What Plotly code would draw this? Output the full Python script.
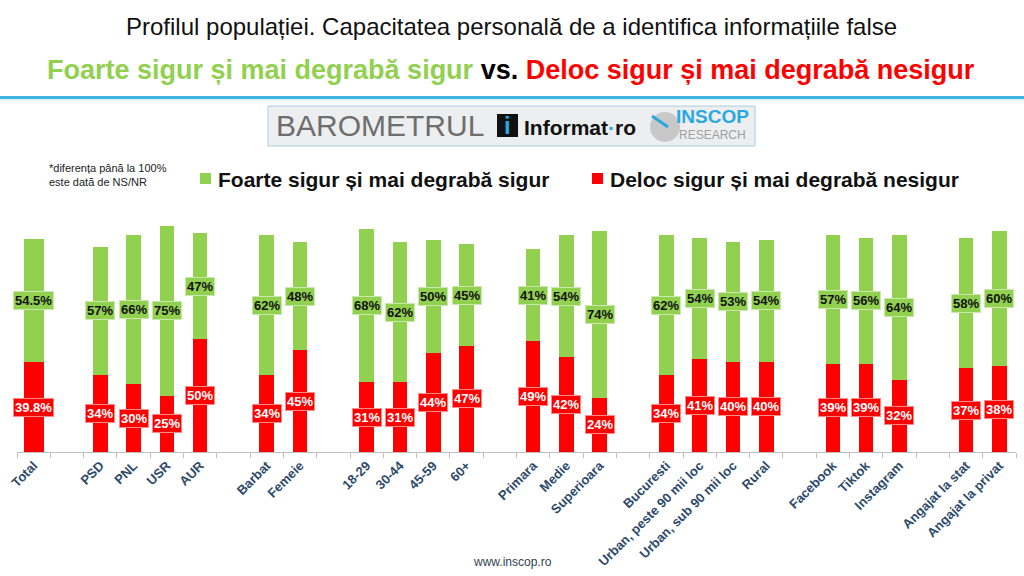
import plotly.graph_objects as go

# ---------------- data ----------------
groups = [
    ["Total"],
    ["PSD", "PNL", "USR", "AUR"],
    ["Barbat", "Femeie"],
    ["18-29", "30-44", "45-59", "60+"],
    ["Primara", "Medie", "Superioara"],
    ["Bucuresti", "Urban, peste 90 mii loc", "Urban, sub 90 mii loc", "Rural"],
    ["Facebook", "Tiktok", "Instagram"],
    ["Angajat la stat", "Angajat la privat"],
]
green_labels = ["54.5%", "57%", "66%", "75%", "47%", "62%", "48%", "68%", "62%", "50%", "45%",
                "41%", "54%", "74%", "62%", "54%", "53%", "54%", "57%", "56%", "64%", "58%", "60%"]
green_vals = [54.5, 57, 66, 75, 47, 62, 48, 68, 62, 50, 45,
              41, 54, 74, 62, 54, 53, 54, 57, 56, 64, 58, 60]
red_labels = ["39.8%", "34%", "30%", "25%", "50%", "34%", "45%", "31%", "31%", "44%", "47%",
              "49%", "42%", "24%", "34%", "41%", "40%", "40%", "39%", "39%", "32%", "37%", "38%"]
red_vals = [39.8, 34, 30, 25, 50, 34, 45, 31, 31, 44, 47,
            49, 42, 24, 34, 41, 40, 40, 39, 39, 32, 37, 38]
series_names = ["Foarte sigur și mai degrabă sigur", "Deloc sigur și mai degrabă nesigur"]

GREEN = "#92D050"
RED = "#FF0000"
W, H = 1024, 576
ML, MR, MT, MB = 17, 8, 215, 124
PW, PH = W - ML - MR, H - MT - MB
FONT = "Liberation Sans, Arial"


def px(x):
    return (x - ML) / PW


def py(y):
    return (H - MB - y) / PH


# build category slots with empty separators between groups
slots, xs, gv, rv, gl, rl, widths = [], [], [], [], [], [], []
k = 0
for gi, g in enumerate(groups):
    if gi > 0:
        slots.append(" " * gi)
    for name in g:
        slots.append(name)
        xs.append(name)
        gv.append(green_vals[k]); rv.append(red_vals[k])
        gl.append(green_labels[k]); rl.append(red_labels[k])
        widths.append(0.6 if name == "Total" else 0.44)
        k += 1

fig = go.Figure()
fig.add_trace(go.Bar(x=xs, y=rv, width=widths, marker=dict(color=RED, line=dict(width=0)),
                     name=series_names[1], hoverinfo="skip", showlegend=False))
fig.add_trace(go.Bar(x=xs, y=gv, width=widths, marker=dict(color=GREEN, line=dict(width=0)),
                     name=series_names[0], hoverinfo="skip", showlegend=False))

annotations = []
for x, g, r, gt, rt in zip(xs, gv, rv, gl, rl):
    annotations.append(dict(x=x, y=r + g / 2, xref="x", yref="y", text=gt, showarrow=False,
                            xanchor="center", yanchor="middle",
                            font=dict(family=FONT, size=13, color="#111111", weight="bold"),
                            bgcolor=GREEN, bordercolor="#c9e8ad", borderwidth=1, borderpad=1))
    annotations.append(dict(x=x, y=r / 2, xref="x", yref="y", text=rt, showarrow=False,
                            xanchor="center", yanchor="middle",
                            font=dict(family=FONT, size=13, color="white", weight="bold"),
                            bgcolor=RED, bordercolor="#ff8a8a", borderwidth=1, borderpad=1))


def note(xp, yp, text, size, color="#111111", xanchor="center", weight="normal", family=FONT):
    annotations.append(dict(x=px(xp), y=py(yp), xref="paper", yref="paper", showarrow=False,
                            xanchor=xanchor, yanchor="middle", align="left", text=text,
                            font=dict(family=family, size=size, color=color, weight=weight)))


# titles
note(511, 27, "Profilul populației. Capacitatea personală de a identifica informațiile false", 24)
note(511, 70, "<span style='color:#92D050'>Foarte sigur și mai degrabă sigur</span> "
              "<span style='color:#000000'>vs.</span> "
              "<span style='color:#FF0000'>Deloc sigur și mai degrabă nesigur</span>",
     27, weight="bold", family="Liberation Sans Narrow, Arial Narrow, Liberation Sans")
# footnote
note(47, 175, "*diferența până la 100%<br>este dată de NS/NR", 11, color="#222222", xanchor="left")
# legend (as text + squares)
note(216, 179, series_names[0], 21, weight="bold", xanchor="left")
note(608, 179, series_names[1], 21, weight="bold", xanchor="left")
# footer
note(512, 562, "www.inscop.ro", 12, color="#333f50")
# banner texts
note(274, 126, "BAROMETRUL", 30, color="#6e6e6e", xanchor="left")
note(507.5, 126, "i", 24, color="#29a9e0", weight="bold")
note(522, 127, "Informat<span style='color:#29a9e0'>·</span>ro", 21, weight="bold", xanchor="left")
note(712, 117, "INSCOP", 19, color="#29a9e0", weight="bold")
note(712, 135, "RESEARCH", 12, color="#a0a0a0")

shapes = [
    dict(type="line", xref="paper", yref="paper", x0=px(0), x1=px(W), y0=py(97.5), y1=py(97.5),
         line=dict(color="#3fb2e0", width=3)),
    dict(type="line", xref="paper", yref="paper", x0=px(0), x1=px(W), y0=py(100), y1=py(100),
         line=dict(color="#bfe6f5", width=1)),
    dict(type="rect", xref="paper", yref="paper", x0=px(268), x1=px(755), y0=py(106), y1=py(146),
         fillcolor="#eceef0", line=dict(color="#a9cfe0", width=1)),
    dict(type="rect", xref="paper", yref="paper", x0=px(497), x1=px(518), y0=py(114), y1=py(137),
         fillcolor="#111111", line=dict(width=0)),
    dict(type="circle", xref="paper", yref="paper", x0=px(650), x1=px(680), y0=py(112), y1=py(142),
         fillcolor="#c8c8c8", line=dict(width=0)),
    dict(type="line", xref="paper", yref="paper", x0=px(652), x1=px(668), y0=py(116), y1=py(127),
         line=dict(color="#29a9e0", width=3)),
    # legend squares
    dict(type="rect", xref="paper", yref="paper", x0=px(200), x1=px(211), y0=py(173), y1=py(184),
         fillcolor=GREEN, line=dict(width=0)),
    dict(type="rect", xref="paper", yref="paper", x0=px(592), x1=px(603), y0=py(173), y1=py(184),
         fillcolor=RED, line=dict(width=0)),
]

fig.update_layout(
    width=W, height=H, autosize=False,
    margin=dict(l=ML, r=MR, t=MT, b=MB),
    paper_bgcolor="white", plot_bgcolor="white",
    barmode="stack",
    annotations=annotations, shapes=shapes,
    showlegend=False,
    xaxis=dict(type="category", categoryorder="array", categoryarray=slots,
               range=[-0.5, len(slots) - 0.5],
               tickmode="array", tickvals=slots, ticktext=slots,
               tickangle=-45, ticks="outside", tickson="boundaries", ticklen=5,
               tickcolor="#BFBFBF", showline=True, linecolor="#BFBFBF", linewidth=1,
               tickfont=dict(family=FONT, size=13, color="#2E4A6B", weight="bold"),
               showgrid=False, zeroline=False, fixedrange=True),
    yaxis=dict(range=[0, 105], visible=False, showgrid=False, zeroline=False, fixedrange=True),
)

fig.write_html("out.html")
